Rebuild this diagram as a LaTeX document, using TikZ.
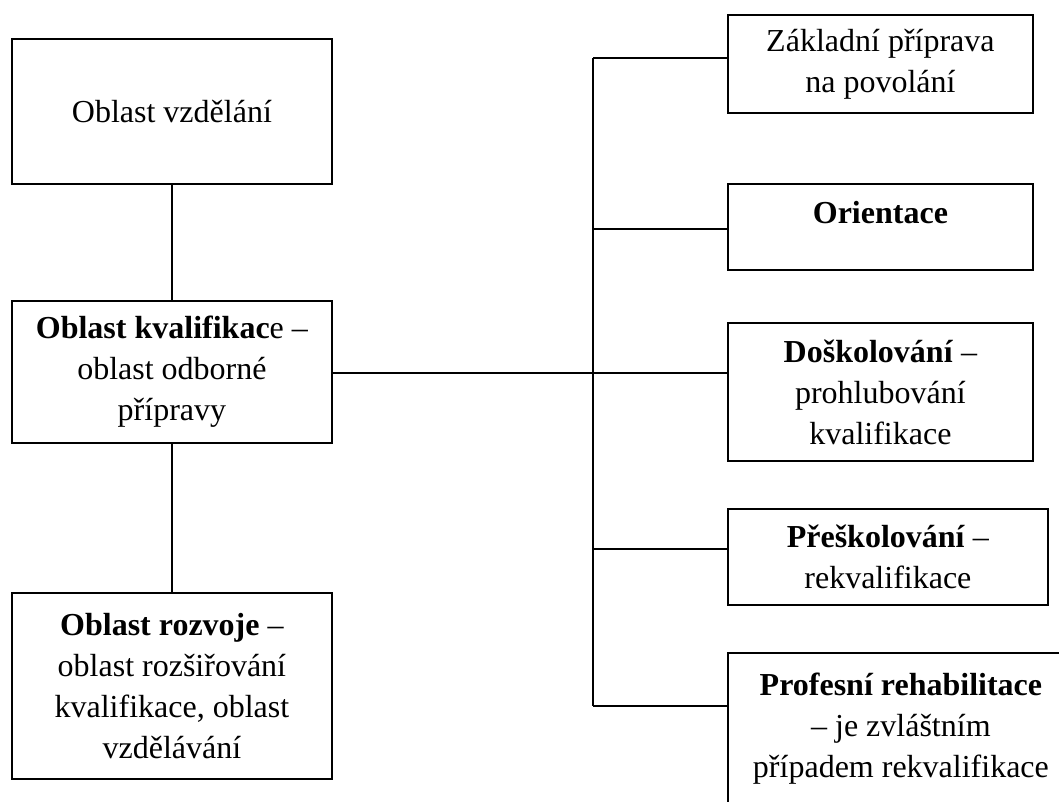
\documentclass[tikz,border=0pt]{standalone}
\usepackage{fontspec}
\setmainfont{Liberation Serif}
\begin{document}
\begin{tikzpicture}[x=1pt,y=-1pt,
  box/.style={draw, line width=1.8pt, anchor=north west, inner sep=0pt, align=center,
    font=\fontsize{32}{41}\selectfont},
  link/.style={line width=1.5pt}]
\useasboundingbox (0,0) rectangle (1059,801);
\clip (0,0) rectangle (1059,801);
\fill[white] (0,0) rectangle (1059,801);
% left column
\node[box, minimum width=320pt, minimum height=145pt] (v) at (11,38) {Oblast vzdělání};
\node[box, minimum width=320pt, minimum height=142pt] (k) at (11,300) {\textbf{Oblast kvalifikac}e –\\oblast odborné\\přípravy};
\node[box, minimum width=320pt, minimum height=186pt] (r) at (11,592) {\textbf{Oblast rozvoje} –\\oblast rozšiřování\\kvalifikace, oblast\\vzdělávání};
% right column
\node[box, minimum width=305pt, minimum height=98pt] (z) at (727,14) {Základní příprava\\na povolání};
\node[box, minimum width=305pt, minimum height=86pt, text height=22pt, text depth=28pt] (o) at (727,183) {\textbf{Orientace}};
\node[box, minimum width=305pt, minimum height=138pt] (d) at (727,322) {\textbf{Doškolování} –\\prohlubování\\kvalifikace};
\node[box, minimum width=320pt, minimum height=96pt] (p) at (727,508) {\textbf{Přeškolování} –\\rekvalifikace};
\node[box, minimum width=346pt, minimum height=152pt] (f) at (727,652) {\textbf{Profesní rehabilitace}\\– je zvláštním\\případem rekvalifikace};
% trunk coordinates
\coordinate (b1) at (593,58);
\coordinate (b2) at (593,229);
\coordinate (b3) at (593,373);
\coordinate (b4) at (593,549);
\coordinate (b5) at (593,706);
% connectors
\draw[link] (v.south) -- (k.north);
\draw[link] (k.south) -- (r.north);
\draw[link] (b3 -| k.east) -- (b3 -| d.west);
\draw[link] (b1) -- (b5);
\draw[link] (b1) -- (b1 -| z.west);
\draw[link] (b2) -- (b2 -| o.west);
\draw[link] (b4) -- (b4 -| p.west);
\draw[link] (b5) -- (b5 -| f.west);
\end{tikzpicture}
\end{document}
